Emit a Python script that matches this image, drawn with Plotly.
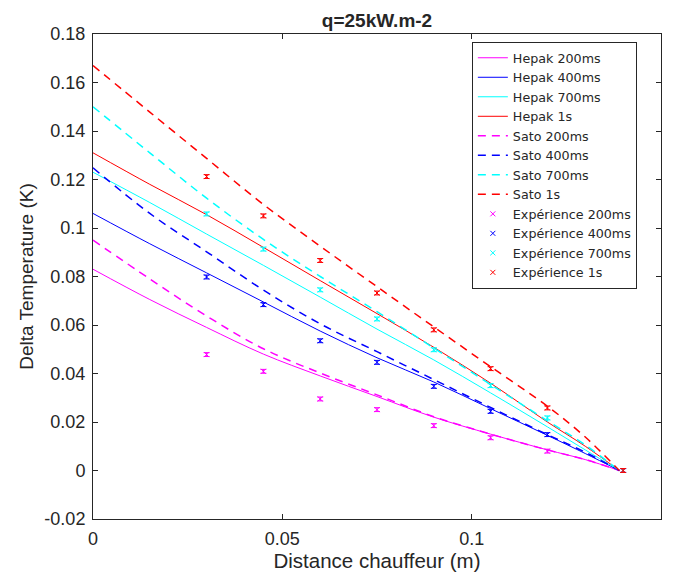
import plotly.graph_objects as go

# Model curves
x_model = [0, 0.015, 0.03, 0.045, 0.06, 0.075, 0.09, 0.105, 0.12, 0.13, 0.139]
hepak_200 = [0.083, 0.0705, 0.059, 0.048, 0.039, 0.0305, 0.022, 0.015, 0.0085, 0.0045, 0]
hepak_400 = [0.106, 0.0935, 0.0815, 0.0695, 0.0575, 0.0465, 0.0365, 0.0255, 0.0145, 0.007, 0]
hepak_700 = [0.123, 0.1105, 0.0975, 0.0846, 0.0715, 0.0583, 0.0456, 0.032, 0.018, 0.0085, 0]
hepak_1s = [0.131, 0.118, 0.1055, 0.092, 0.0783, 0.0647, 0.0508, 0.036, 0.020, 0.010, 0]
sato_200 = [0.095, 0.079, 0.0637, 0.0502, 0.0402, 0.0312, 0.0222, 0.015, 0.0085, 0.0045, 0]
sato_400 = [0.1248, 0.106, 0.0902, 0.0744, 0.0605, 0.049, 0.0375, 0.026, 0.0148, 0.0075, 0]
sato_700 = [0.150, 0.131, 0.1123, 0.0953, 0.080, 0.0655, 0.0505, 0.0355, 0.0205, 0.0105, 0]
sato_1s = [0.167, 0.1478, 0.1287, 0.1097, 0.0925, 0.0758, 0.0592, 0.0428, 0.0265, 0.0138, 0]

# Experimental points
x_exp = [0.03, 0.045, 0.06, 0.075, 0.09, 0.105, 0.12, 0.14]
exp_200 = [0.0478, 0.0409, 0.0295, 0.0251, 0.0185, 0.0135, 0.008, 0]
exp_400 = [0.0798, 0.0684, 0.0535, 0.0446, 0.0347, 0.0244, 0.0148, 0]
exp_700 = [0.1058, 0.0913, 0.0745, 0.0625, 0.0498, 0.035, 0.0217, 0]
exp_1s = [0.1212, 0.105, 0.0866, 0.0732, 0.058, 0.042, 0.0258, 0]
exp_err = 0.0008

labels_t = ["200ms", "400ms", "700ms", "1s"]
colors = ["#FF00FF", "#0000FF", "#00FFFF", "#FF0000"]

fig = go.Figure()
for lab, col, ys in zip(labels_t, colors, [hepak_200, hepak_400, hepak_700, hepak_1s]):
    fig.add_trace(go.Scatter(x=x_model, y=ys, mode="lines", name="Hepak " + lab,
                             line=dict(color=col, width=1), line_shape="spline"))
for lab, col, ys in zip(labels_t, colors, [sato_200, sato_400, sato_700, sato_1s]):
    fig.add_trace(go.Scatter(x=x_model, y=ys, mode="lines", name="Sato " + lab,
                             line=dict(color=col, width=1.5, dash="8px,6px"), line_shape="spline"))
for lab, col, ys in zip(labels_t, colors, [exp_200, exp_400, exp_700, exp_1s]):
    fig.add_trace(go.Scatter(x=x_exp, y=ys, mode="markers", name="Expérience " + lab,
                             marker=dict(symbol="x-thin-open", size=5, color=col,
                                         line=dict(color=col, width=1)),
                             error_y=dict(type="constant", value=exp_err, color=col,
                                          thickness=1, width=3)))

axis_common = dict(showline=True, linecolor="#262626", linewidth=1, mirror="allticks",
                   ticks="inside", ticklen=5, tickcolor="#262626", showgrid=False,
                   zeroline=False, automargin=False, ticklabelstandoff=3,
                   tickfont=dict(size=18, color="#262626"))

fig.update_layout(
    width=669, height=567,
    margin=dict(l=85, r=16, t=26, b=56),
    paper_bgcolor="white", plot_bgcolor="white",
    font=dict(family="Liberation Sans, Arial, sans-serif", color="#262626"),
    title=dict(text="<b>q=25kW.m-2</b>", x=0.5, xref="paper", xanchor="center",
               y=0.979, yref="container", yanchor="middle", automargin=False,
               font=dict(size=19, color="#262626")),
    xaxis=dict(range=[0, 0.15], tickvals=[0, 0.05, 0.1, 0.15],
               ticktext=["0", "0.05", "0.1", "0.15"],
               title=dict(text="Distance chauffeur (m)", font=dict(size=20.5), standoff=6),
               **axis_common),
    yaxis=dict(range=[-0.02, 0.18], tickvals=[-0.02 + 0.02 * i for i in range(11)],
               ticktext=["-0.02", "0", "0.02", "0.04", "0.06", "0.08", "0.1", "0.12",
                         "0.14", "0.16", "0.18"],
               title=dict(text="Delta Temperature (K)", font=dict(size=19), standoff=5),
               **axis_common),
    legend=dict(x=0.667, xanchor="left", y=0.9835, yanchor="top",
                bgcolor="white", bordercolor="#262626", borderwidth=1,
                font=dict(size=12.7, family="DejaVu Sans, sans-serif", color="#262626"),
                tracegroupgap=0, itemwidth=30),
    showlegend=True,
)

fig.write_html("out.html")
